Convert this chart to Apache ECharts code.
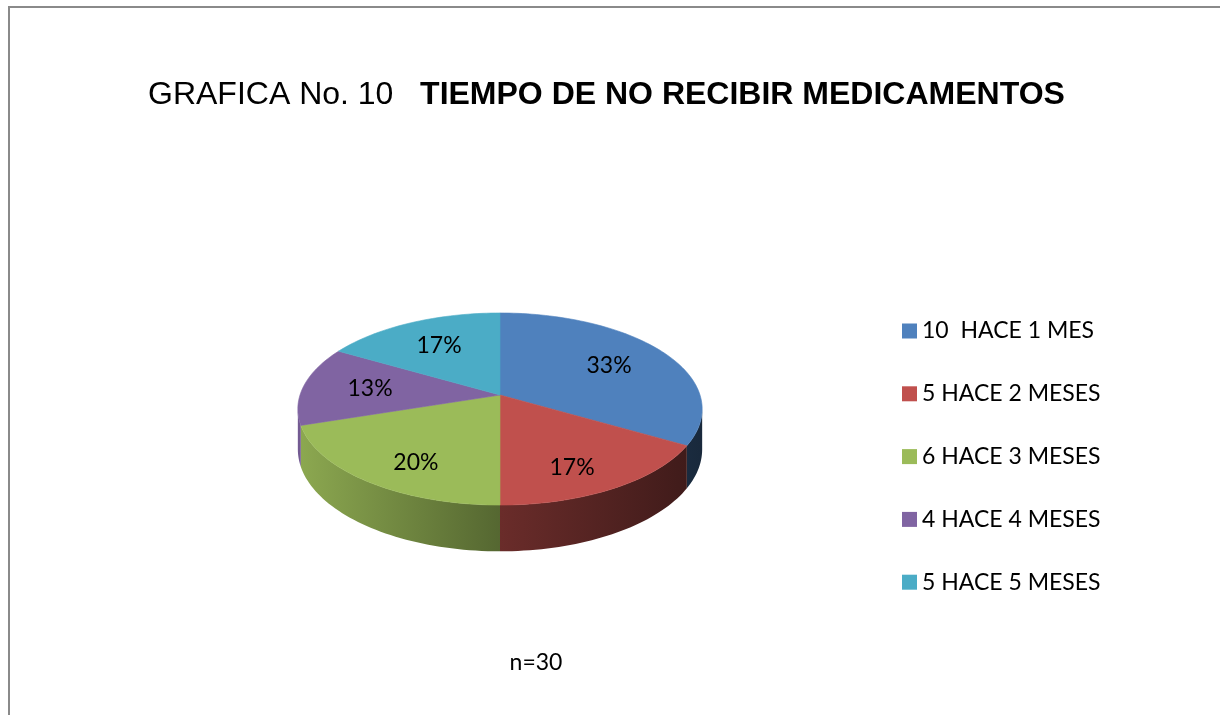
<!DOCTYPE html>
<html>
<head>
<meta charset="utf-8">
<title>GRAFICA No. 10</title>
<script src="https://cdn.jsdelivr.net/npm/echarts@6/dist/echarts.min.js"></script>
<style>
html, body { margin: 0; padding: 0; background: #fff; }
#main { width: 1220px; height: 715px; }
/* marco gris izquierda y arriba */
#marco { position: absolute; left: 8px; top: 6px; width: 1212px; height: 709px; border-left: 2px solid #8a8a8a; border-top: 2px solid #8a8a8a; box-sizing: border-box; pointer-events: none; }
</style>
</head>
<body>
<div id="main"></div>
<div id="marco"></div>
<script>
// datos de la grafica
var categorias = ['10  HACE 1 MES', '5 HACE 2 MESES', '6 HACE 3 MESES', '4 HACE 4 MESES', '5 HACE 5 MESES'];
var valores = [10, 5, 6, 4, 5];
var muestra = 'n=30';
var tituloA = 'GRAFICA No. 10   ';
var tituloB = 'TIEMPO DE NO RECIBIR MEDICAMENTOS';

// estilos
var colores = ['#4F81BD', '#C0504D', '#9BBB59', '#8064A2', '#4BACC6'];
var fuente = 'Lato';
var tamFuente = 23;

// geometria del pastel 3D (perspectiva)
var pie = { cx: 500, cy: 395, a: 200, b: 94, k: 0.146, depth: 39.5, labelR: 0.66 };

var total = 0;
for (var i = 0; i < valores.length; i++) total += valores[i];

function proyectar(u, v) {
	var w = 1 - pie.k * v;
	return [pie.cx + pie.a * u / w, pie.cy + pie.b * v / w, w];
}
//angulo medido desde arriba, sentido horario
function borde(t) {
	return proyectar(Math.sin(t), -Math.cos(t));
}
function shade(hex, f) {
	var r = parseInt(hex.substr(1, 2), 16), g = parseInt(hex.substr(3, 2), 16), b = parseInt(hex.substr(5, 2), 16);
	return 'rgb(' + Math.round(r * f) + ',' + Math.round(g * f) + ',' + Math.round(b * f) + ')';
}

function renderSlice(idx) {
	return function(params, api) {
		var ini = 0;
		for (var j = 0; j < idx; j++) ini += valores[j];
		var valor = api.value(0);
		var t0 = ini / total * 2 * Math.PI;
		var t1 = (ini + valor) / total * 2 * Math.PI;
		var color = colores[idx];
		var paso = Math.PI / 120;
		var children = [];

		// cara lateral visible (frente)
		var tA = Math.acos(-pie.k), tB = 2 * Math.PI - tA;
		var s0 = Math.max(t0, tA), s1 = Math.min(t1, tB);
		if (s1 > s0) {
			var arriba = [], abajo = [];
			var n = Math.max(2, Math.ceil((s1 - s0) / paso));
			for (var q = 0; q <= n; q++) {
				var p = borde(s0 + (s1 - s0) * q / n);
				arriba.push([p[0], p[1]]);
				abajo.unshift([p[0], p[1] + pie.depth / p[2]]);
			}
			children.push({
				type: 'polygon',
				z2: 1,
				shape: { points: arriba.concat(abajo) },
				style: {
					fill: new echarts.graphic.LinearGradient(pie.cx - pie.a, 0, pie.cx + pie.a, 0, [
						{ offset: 0, color: shade(color, 0.9) },
						{ offset: 0.5, color: shade(color, 0.55) },
						{ offset: 1, color: shade(color, 0.32) }
					], true),
					stroke: null
				}
			});
		}

		// cara superior
		var pts = [[pie.cx, pie.cy]];
		var m = Math.max(2, Math.ceil((t1 - t0) / paso));
		for (var q2 = 0; q2 <= m; q2++) {
			var pp = borde(t0 + (t1 - t0) * q2 / m);
			pts.push([pp[0], pp[1]]);
		}
		children.push({
			type: 'polygon',
			z2: 2,
			shape: { points: pts },
			style: { fill: color, stroke: color, lineWidth: 0.6 }
		});

		// etiqueta de porcentaje
		var mid = (t0 + t1) / 2;
		var lp = proyectar(pie.labelR * Math.sin(mid), -pie.labelR * Math.cos(mid));
		children.push({
			type: 'text',
			z2: 3,
			x: lp[0],
			y: lp[1] + 16 * Math.max(0, -Math.cos(mid)),
			style: {
				text: Math.round(valor / total * 100) + '%',
				align: 'center',
				verticalAlign: 'middle',
				font: tamFuente + 'px ' + fuente,
				fill: '#000'
			}
		});
		return { type: 'group', children: children };
	};
}

var myChart = echarts.init(document.getElementById('main'));
var series = [];
for (var s = 0; s < categorias.length; s++) {
	series.push({
		type: 'custom',
		name: categorias[s],
		coordinateSystem: 'none',
		renderItem: renderSlice(s),
		data: [[valores[s]]],
		itemStyle: { color: colores[s] },
		silent: true
	});
}

option = {
	backgroundColor: '#fff',
	animation: false,
	title: {
		text: '{a|' + tituloA + '}{b|' + tituloB + '}',
		left: 148,
		top: 79,
		padding: 0,
		textStyle: {
			fontWeight: 'normal',
			rich: {
				a: { fontFamily: 'Liberation Sans', fontSize: 32, fontWeight: 'normal', color: '#000' },
				b: { fontFamily: 'Liberation Sans', fontSize: 32, fontWeight: 'bold', color: '#000' }
			}
		}
	},
	legend: {
		data: categorias,
		orient: 'vertical',
		left: 902,
		top: 318,
		icon: 'rect',
		itemWidth: 15,
		itemHeight: 15,
		itemGap: 36.8,
		padding: 0,
		textStyle: { fontFamily: fuente, fontSize: tamFuente, color: '#000', lineHeight: 26 }
	},
	graphic: [{
		type: 'text',
		x: 536,
		y: 663,
		style: { text: muestra, align: 'center', verticalAlign: 'middle', font: tamFuente + 'px ' + fuente, fill: '#000' }
	}],
	series: series
};
myChart.setOption(option);//dibujar
</script>
</body>
</html>
